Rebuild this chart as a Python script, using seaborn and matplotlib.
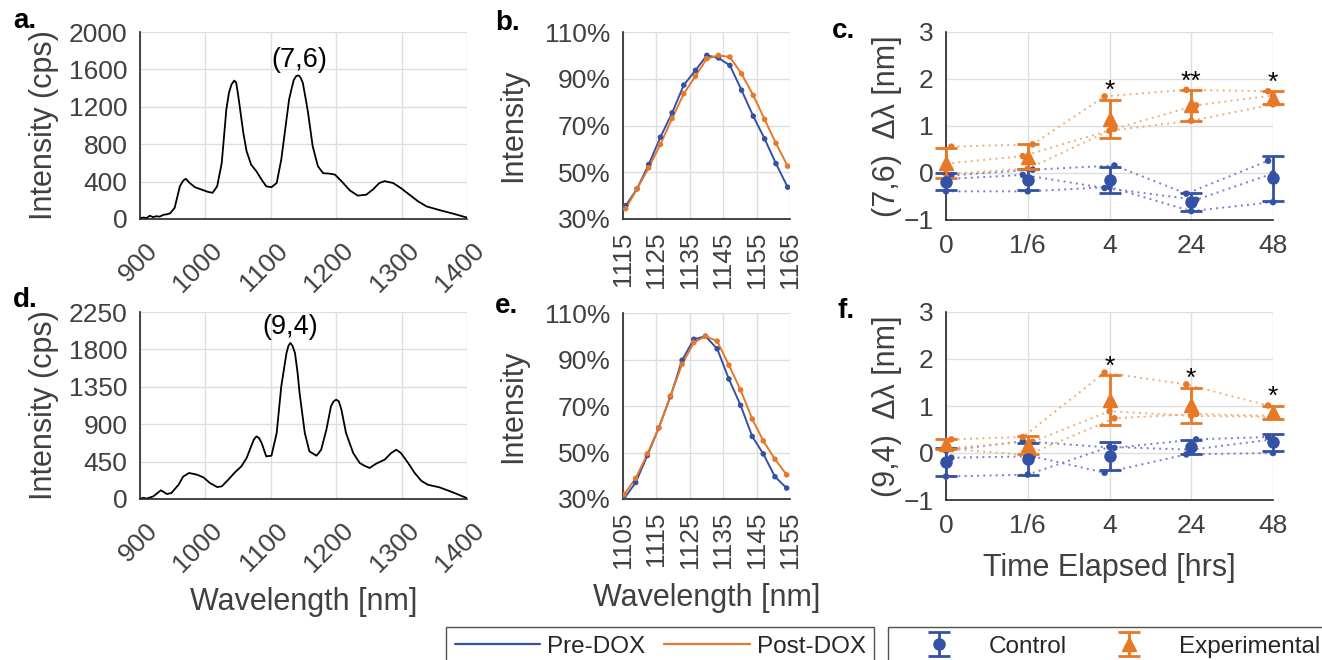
import numpy as np
import matplotlib
matplotlib.use("Agg")
import matplotlib.pyplot as plt
import matplotlib.transforms as mtransforms
from matplotlib.lines import Line2D
from matplotlib.ticker import FuncFormatter
import seaborn as sns

# ---------------- data ----------------
spec76_nm = [900, 905, 910, 915, 920, 925, 930, 936, 941, 946, 953, 961, 966, 970, 976, 984, 994, 1004,
             1011, 1018, 1025, 1032, 1036, 1040, 1044, 1047, 1050, 1058, 1063, 1070, 1078, 1086, 1093,
             1101, 1109, 1116, 1124, 1128, 1132, 1135, 1139, 1143, 1146, 1149, 1154, 1157, 1164, 1172,
             1180, 1190, 1198, 1208, 1221, 1233, 1246, 1256, 1266, 1274, 1287, 1299, 1312, 1325, 1338,
             1358, 1380, 1400]
spec76_cps = [10, 15, 10, 35, 20, 30, 25, 45, 50, 60, 120, 350, 410, 430, 385, 340, 315, 290,
              280, 350, 600, 1170, 1350, 1440, 1480, 1460, 1330, 920, 725, 580, 510, 420, 350,
              340, 385, 635, 1065, 1280, 1400, 1485, 1530, 1535, 1505, 1455, 1260, 1135, 780, 565,
              490, 485, 475, 405, 305, 250, 260, 315, 385, 405, 385, 330, 260, 190, 135,
              95, 55, 15]

spec94_nm = [900, 905, 910, 920, 932, 941, 948, 959, 966, 975, 987, 997, 1007, 1018, 1025, 1035, 1045,
             1055, 1063, 1070, 1074, 1078, 1082, 1086, 1093, 1101, 1109, 1116, 1120, 1124, 1127, 1130,
             1133, 1137, 1141, 1144, 1152, 1159, 1170, 1177, 1185, 1192, 1196, 1200, 1204, 1208, 1215,
             1226, 1236, 1243, 1251, 1261, 1274, 1284, 1292, 1299, 1310, 1320, 1330, 1340, 1358,
             1380, 1400]
spec94_cps = [0, 15, 5, 30, 105, 60, 72, 172, 270, 313, 293, 260, 192, 144, 152, 232, 320,
              393, 493, 634, 714, 754, 734, 674, 513, 521, 794, 1355, 1556, 1756, 1845, 1877,
              1845, 1756, 1516, 1275, 794, 573, 521, 593, 834, 1115, 1175, 1195, 1175, 1075, 794,
              553, 433, 401, 373, 425, 473, 553, 593, 553, 433, 313, 220, 172, 140,
              75, 10]

b_nm = [1115.8, 1119.2, 1122.7, 1126.2, 1129.7, 1133.2, 1136.7, 1140.1, 1143.6, 1147.0, 1150.5,
        1154.0, 1157.4, 1160.8, 1164.3]
b_pre = [35.7, 42.9, 53.3, 65.0, 75.4, 87.3, 93.6, 100.0, 98.9, 95.7, 85.1, 74.0, 64.3, 53.7, 43.6]
b_post = [34.4, 42.9, 51.9, 61.9, 73.0, 83.6, 91.1, 98.6, 100.0, 99.3, 92.1, 82.9, 72.6, 62.4, 52.6]

e_nm = [1105.3, 1108.8, 1112.3, 1115.7, 1119.2, 1122.7, 1126.2, 1129.7, 1133.2, 1136.7, 1140.2,
        1143.7, 1147.0, 1150.5, 1154.0]
e_pre = [30.1, 37.1, 48.7, 60.6, 74.0, 89.7, 98.7, 100.0, 94.6, 81.6, 70.3, 56.9, 49.4, 39.6, 34.7]
e_post = [31.9, 38.9, 49.4, 60.6, 74.3, 88.0, 97.3, 100.0, 97.9, 87.6, 76.9, 64.4, 55.0, 47.1, 40.4]

time_labels = ["0", "1/6", "4", "24", "48"]

# panel c: (7,6) shifts, three replicates per group
c_ctrl_reps = [[-0.39, -0.39, -0.30, -0.81, -0.62],
               [-0.05, 0.07, 0.16, -0.44, 0.26],
               [-0.13, -0.04, -0.32, -0.57, -0.01]]
c_ctrl_mean = [-0.185, -0.14, -0.15, -0.62, -0.115]
c_ctrl_err = [0.185, 0.23, 0.28, 0.19, 0.475]
c_exp_reps = [[0.56, 0.61, 1.63, 1.77, 1.74],
              [0.20, 0.36, 0.94, 1.44, 1.65],
              [-0.02, 0.09, 0.90, 1.11, 1.46]]
c_exp_mean = [0.215, 0.35, 1.155, 1.44, 1.605]
c_exp_err = [0.325, 0.26, 0.405, 0.33, 0.145]
c_sig = ["", "", "*", "**", "*"]

# panel f: (9,4) shifts
f_ctrl_reps = [[-0.50, -0.46, 0.13, 0.07, 0.29],
               [-0.10, -0.07, -0.42, -0.03, 0.00],
               [0.05, 0.25, 0.11, 0.29, 0.34]]
f_ctrl_mean = [-0.19, -0.12, -0.065, 0.125, 0.225]
f_ctrl_err = [0.29, 0.34, 0.305, 0.155, 0.185]
f_exp_reps = [[0.29, 0.34, 1.71, 1.46, 1.01],
              [0.10, 0.24, 0.89, 0.79, 0.77],
              [0.09, -0.04, 0.74, 0.83, 0.79]]
f_exp_mean = [0.19, 0.165, 1.12, 1.015, 0.865]
f_exp_err = [0.10, 0.195, 0.53, 0.375, 0.145]
f_sig = ["", "", "*", "*", "*"]

# horizontal jitter of replicate dots (category units) - style
c_ctrl_jit = [[0, 0, 0, 0, 0], [0.065, 0.06, 0.06, -0.06, -0.06], [0, -0.06, -0.06, 0.06, 0]]
c_exp_jit = [[0.065, 0.06, -0.06, -0.06, -0.06], [0, -0.06, 0.06, 0.06, 0], [0, 0, 0, 0, 0]]
f_ctrl_jit = [[0, 0, 0, 0, 0], [0.065, 0.06, -0.06, -0.06, 0], [0, -0.06, 0.06, 0.06, -0.06]]
f_exp_jit = [[0.065, -0.06, -0.06, -0.06, -0.06], [0, 0.06, 0, 0, 0], [0, 0, 0.06, 0.06, 0]]

# ---------------- style ----------------
sns.set_theme(style="white")
plt.rcParams["font.family"] = ["Liberation Sans", "DejaVu Sans"]

BLUE = "#3551A6"
ORANGE = "#E67827"
BLUE_DOT = "#7A7CCB"
ORANGE_DOT = "#F2AE72"
AX = "#262626"
TXT = "#404040"
TICK_FS = 19
LAB_FS = 22

W, H = 1322, 660
fig = plt.figure(figsize=(W / 100, H / 100), dpi=100)


def ax_px(l, t, r, b):
    return fig.add_axes([l / W, 1 - b / H, (r - l) / W, (b - t) / H])


def style(ax, pad=9):
    for s in ["top", "right"]:
        ax.spines[s].set_visible(False)
    for s in ["left", "bottom"]:
        ax.spines[s].set_color(AX)
        ax.spines[s].set_linewidth(1.2)
    ax.tick_params(direction="in", length=4, width=1.0, color=AX, labelcolor=TXT,
                   labelsize=TICK_FS, pad=pad)
    ax.grid(True, color="#dedede", linewidth=1.0)
    ax.set_axisbelow(True)


ax_a = ax_px(140, 32, 467, 219)
ax_b = ax_px(623, 32, 790, 219)
ax_c = ax_px(946, 32, 1273, 220)
ax_d = ax_px(140, 312, 467, 499)
ax_e = ax_px(623, 313, 790, 499)
ax_f = ax_px(946, 312, 1273, 500)

# ---------- spectra (a, d) ----------
for ax, nm, cps, ymax, ystep, lab in [(ax_a, spec76_nm, spec76_cps, 2000, 400, "(7,6)"),
                                       (ax_d, spec94_nm, spec94_cps, 2250, 450, "(9,4)")]:
    style(ax)
    sns.lineplot(x=nm, y=cps, ax=ax, color="black", linewidth=1.3, sort=False, estimator=None)
    ax.set_xlim(900, 1400)
    ax.set_ylim(0, ymax)
    ax.set_xticks(range(900, 1401, 100))
    ax.set_yticks(range(0, ymax + 1, ystep))
    ax.tick_params(axis="x", pad=14)
    i = int(np.argmax(cps))
    ax.annotate(lab, xy=(nm[i], cps[i]), xytext=(0, 2), textcoords="offset points",
                ha="center", va="bottom", fontsize=19.5, color="black")
    ax.set_ylabel("Intensity (cps)", fontsize=LAB_FS, color=TXT)
    ax.yaxis.set_label_coords(-0.248, 0.5)
    for t in ax.get_xticklabels():
        t.set_rotation(45)
        t.set_ha("right")
        t.set_va("top")
        t.set_transform(t.get_transform() + mtransforms.ScaledTranslation(22 / 100, 0, fig.dpi_scale_trans))

ax_d.set_xlabel("Wavelength [nm]", fontsize=LAB_FS, color=TXT)
ax_d.xaxis.set_label_coords(0.5, -0.47)

# ---------- normalized peaks (b, e) ----------
pct = FuncFormatter(lambda v, p: f"{v:.0f}%")
for ax, nm, pre, post, x0 in [(ax_b, b_nm, b_pre, b_post, 1115), (ax_e, e_nm, e_pre, e_post, 1105)]:
    style(ax)
    sns.lineplot(x=nm, y=pre, ax=ax, color=BLUE, linewidth=1.4, sort=False, estimator=None)
    sns.lineplot(x=nm, y=post, ax=ax, color=ORANGE, linewidth=1.4, sort=False, estimator=None)
    sns.scatterplot(x=nm, y=pre, ax=ax, color=BLUE, s=16, edgecolor="none", zorder=3)
    sns.scatterplot(x=nm, y=post, ax=ax, color=ORANGE, s=16, edgecolor="none", zorder=3)
    ax.set_xlim(x0, x0 + 50)
    ax.set_ylim(30, 110)
    ax.set_xticks(range(x0, x0 + 51, 10))
    ax.set_yticks(range(30, 111, 20))
    ax.yaxis.set_major_formatter(pct)
    ax.tick_params(axis="x", labelrotation=90, pad=9)
    ax.set_ylabel("Intensity", fontsize=LAB_FS, color=TXT)
    ax.yaxis.set_label_coords(-0.569, 0.5)

ax_e.set_xlabel("Wavelength [nm]", fontsize=LAB_FS, color=TXT)
ax_e.xaxis.set_label_coords(0.5, -0.45)

# ---------- shifts (c, f) ----------
pos = np.arange(len(time_labels))
handles_err = None
for ax, groups, sig, ylab in [
        (ax_c, [(c_ctrl_reps, c_ctrl_jit, c_ctrl_mean, c_ctrl_err, BLUE, BLUE_DOT, "o", 8),
                (c_exp_reps, c_exp_jit, c_exp_mean, c_exp_err, ORANGE, ORANGE_DOT, "^", 10)],
         c_sig, "(7,6)  Δλ [nm]"),
        (ax_f, [(f_ctrl_reps, f_ctrl_jit, f_ctrl_mean, f_ctrl_err, BLUE, BLUE_DOT, "o", 8),
                (f_exp_reps, f_exp_jit, f_exp_mean, f_exp_err, ORANGE, ORANGE_DOT, "^", 10)],
         f_sig, "(9,4)  Δλ [nm]")]:
    style(ax, pad=9)
    ebs = []
    for reps, jit, mean, err, col, dcol, mk, ms in groups:
        for r, j in zip(reps, jit):
            xs = pos + np.array(j)
            ax.plot(xs, r, color=dcol, linestyle=(0, (1, 2.2)), linewidth=1.4, zorder=2)
            sns.scatterplot(x=xs, y=r, ax=ax, color=col, s=22, edgecolor="none", zorder=3,
                            clip_on=False)
        eb = ax.errorbar(pos, mean, yerr=err, fmt=mk, color=col, markersize=ms, capsize=8,
                         capthick=2, elinewidth=2, zorder=4)
        for art in eb.get_children():
            art.set_clip_on(False)
        ebs.append(eb)
    top_mean, top_err = groups[1][2], groups[1][3]
    for k, s in enumerate(sig):
        if s:
            ax.annotate(s, xy=(pos[k], top_mean[k] + top_err[k]), xytext=(0, 1),
                        textcoords="offset points", ha="center", va="baseline",
                        fontsize=19, color="black", annotation_clip=False)
    ax.set_xlim(0, 4)
    ax.set_ylim(-1, 3)
    ax.set_xticks(pos)
    ax.set_xticklabels(time_labels)
    ax.set_yticks([-1, 0, 1, 2, 3])
    ax.tick_params(axis="x", pad=10)
    ax.set_ylabel(ylab, fontsize=LAB_FS, color=TXT)
    ax.yaxis.set_label_coords(-0.1346, 0.5)
    if handles_err is None:
        handles_err = ebs

ax_f.set_xlabel("Time Elapsed [hrs]", fontsize=LAB_FS, color=TXT)
ax_f.xaxis.set_label_coords(0.5, -0.28)

# ---------- panel letters ----------
for s, x, y in [("a.", 13, 28), ("b.", 495, 30), ("c.", 832, 38),
                ("d.", 13, 307), ("e.", 495, 313), ("f.", 837, 318)]:
    fig.text(x / W, 1 - y / H, s, fontsize=20, fontweight="bold", color="black",
             ha="left", va="baseline")

# ---------- legends ----------
leg_kw = dict(loc="upper left", bbox_transform=fig.transFigure, ncol=2, fontsize=17.5,
              frameon=True, fancybox=False, edgecolor=AX, borderpad=0.35, handlelength=3.5,
              handletextpad=0.3, columnspacing=0.8, borderaxespad=0, labelcolor="#262626")
line_handles = [Line2D([], [], color=BLUE, lw=1.6), Line2D([], [], color=ORANGE, lw=1.6)]
leg1 = fig.legend(line_handles, ["Pre-DOX", "Post-DOX"], bbox_to_anchor=(446 / W, 1 - 627 / H), **leg_kw)
leg2 = fig.legend(handles_err, ["Control", "Experimental"], bbox_to_anchor=(888 / W, 1 - 627 / H), **leg_kw)
for lg in (leg1, leg2):
    lg.get_frame().set_linewidth(1.0)

fig.savefig("out.png", dpi=100)
